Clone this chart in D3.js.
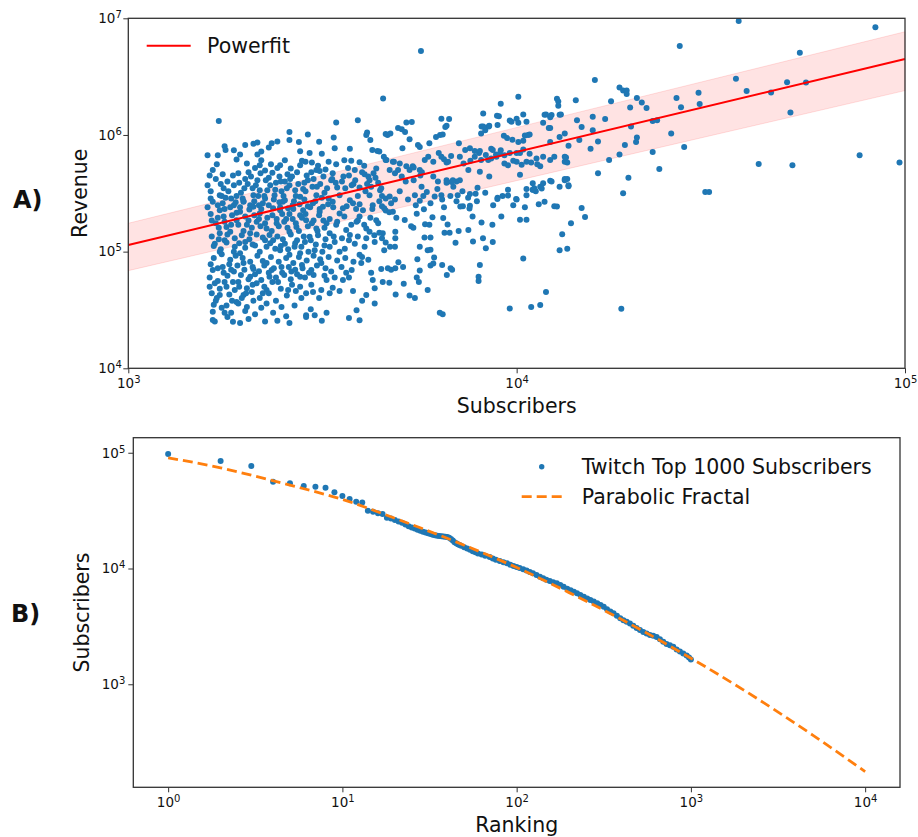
<!DOCTYPE html>
<html>
<head>
<meta charset="utf-8">
<script src="https://cdn.jsdelivr.net/npm/d3@7"></script>
<style>
  body { margin: 0; background: #fff; }
  text { font-family: "DejaVu Sans", sans-serif; fill: #111; }
</style>
</head>
<body>
<div id="chart"></div>
<script>
// ---- panel A data: [subscribers (thousands), revenue (thousands)] ----
var scatterDense = [
  [1.71,1320],[4.1,1000],[4.2,905],[4.65,1000],[3.43,1280],[3.9,1340],
  [2.6,1060],[2.6,905],[3.38,950],[3.4,770],[2.75,870],[2.77,725],[3.1,875],
  [2.1,840],[2.34,850],[2.2,720],[2.15,680],[1.6,670],[1.7,670],[1.78,745],[1.9,615],[1.94,680],
  [3.72,760],[3.6,608],[3.75,600],[3.94,585],[4.05,545],[4.25,745],[4.38,730],[4.55,650],
  [2.8,600],[2.93,700],[3.15,690],[2.97,580],[3.08,545],[2.62,515],[2.61,420],
  [2.18,550],[2.25,495],[2.35,475],[2.45,440],[2.53,400],[2.4,390],
  [1.65,500],[1.75,460],[1.73,380],[1.6,370],
  [1.87,370],[2.0,420],[1.95,320],[2.09,350],[2.15,410],[2.18,336],[2.28,336],
  [2.69,336],[2.82,345],[2.9,410],[3.11,490],[3.22,505],[3.33,410],[3.45,355],[3.58,440],[3.7,450],
  [3.84,410],[3.94,355],[4.06,460],[4.18,410],[4.33,430],[4.45,336],[4.6,285],
  [1.72,305],[1.84,285],[1.98,270],[2.1,305],[2.25,285],[2.38,305],[2.53,276],[2.77,295],[3.05,305],
  [3.28,285],[3.5,305],[3.72,276],[3.94,255],[4.18,305],[4.43,270],
  [1.6,240],[1.77,232],[1.94,240],[2.06,250],[2.2,232],[2.46,240],[2.66,232],[2.9,245],[3.11,232],
  [3.37,240],[3.65,245],[3.86,232],[4.25,232],[4.5,245],
  [1.87,740],[2.02,570],[2.2,608],[2.46,550],[2.53,608],[2.77,550],[2.86,590],[3.05,500],[3.28,590],
  [3.43,560],[3.83,500],[4.15,440],[4.35,515],
  [1.68,420],[1.8,400],[1.92,470],[2.04,480],[2.12,520],[2.3,430],[2.42,520],[2.57,460],[2.72,480],
  [2.88,450],[3.0,420],[3.18,440],[3.36,470],[3.55,400],[3.68,520],[3.8,380],[4.0,480],[4.12,380],
  [4.28,470],[1.63,330],[1.76,350],[1.9,300],[2.03,380],[2.16,300],[2.32,370],[2.48,330],[2.6,370],
  [2.7,300],[2.84,390],[2.98,360],[3.12,380],[3.25,350],[3.42,390],[3.62,350],[3.76,370],[3.9,300],
  [4.08,330],[4.22,360],[4.4,390],
  [1.77,800],[2.0,820],[2.15,860],[2.42,880],[2.3,780],[2.9,1010],
  [4.12,1050],[4.6,1020],[4.95,1150],[5.2,1280],[6.2,960],[6.4,1380],[6.6,1200]
];

var scatterLow = [
  [1.65,267],[1.75,260],[1.87,250],[1.98,267],[2.1,243],[2.22,260],[2.36,235],[2.5,267],[2.65,250],
  [2.82,226],[2.99,260],[3.17,243],[3.36,267],[3.57,235],[3.79,260],[4.02,226],[4.26,250],[4.56,235],
  [1.72,226],[1.94,220],[2.18,212],[2.46,226],[2.77,205],[3.11,220],[3.5,212],[3.94,200],
  [1.68,175],[1.79,163],[1.9,186],[2.02,170],[2.14,180],[2.27,158],[2.41,175],[2.55,190],[2.71,163],
  [2.87,186],[3.05,158],[3.24,175],[3.43,170],[3.64,153],[3.87,180],[4.1,158],[4.35,186],
  [1.72,144],[1.83,148],[2.06,144],[2.31,139],[2.6,148],[2.93,134],[3.3,144],[3.72,139],[4.18,148],[4.52,144],
  [1.67,117],[1.77,125],[1.88,110],[2.0,121],[2.12,113],[2.25,125],[2.39,106],[2.53,117],[2.68,110],
  [2.85,121],[3.02,103],[3.2,113],[3.4,121],[3.61,106],[3.83,117],[4.06,110],[4.31,121],[4.56,103],
  [1.72,100],[1.94,97],[2.46,103],[2.6,94],[2.77,97],[3.5,100],[3.94,94],
  [1.65,69.5],[1.75,74],[1.87,67.5],[1.98,80],[2.1,71],[2.22,83],[2.34,69.5],[2.48,74],[2.63,67.5],
  [2.8,77],[2.96,69.5],[3.14,80],[3.33,67.5],[3.54,74],[3.76,69.5],[3.98,80],[4.22,66],[4.48,71],
  [1.83,85],[2.06,61],[2.31,61],[2.77,61],[3.24,57],[3.64,66],[4.26,57],
  [1.67,53.5],[1.79,50],[1.92,55],[2.02,48.5],[2.14,53.5],[2.27,47],[2.43,55],[2.58,47],[2.77,50],
  [2.96,52],[3.14,47],[3.36,49],[3.57,57],[3.79,46],[4.1,42.5],[4.31,48.5],[4.52,55],
  [1.72,42.5],[1.98,42.5],[2.22,44],[2.87,44],
  [1.68,38],[1.79,34.5],[1.9,37],[2.02,33.5],[2.1,38],[2.27,36],[2.48,33.5],[2.68,34.5],[2.87,28.5],
  [3.02,28.5],[3.24,30],[3.87,31.5],[3.94,25.8],[4.31,36],
  [1.65,30.5],[1.67,25.2],[1.77,30],[1.94,24.5],[2.04,26.5],[2.25,25.2],[2.6,24.5],[2.87,27.5],
  [1.63,210],[1.7,195],[1.77,180],[1.85,205],[1.92,170],[2.0,200],[2.08,160],[2.17,190],[2.25,175],
  [2.35,205],[2.44,165],[2.52,180],[2.6,210],[2.7,175],[2.8,195],[2.9,165],[3.0,185],[3.1,205],
  [3.2,160],[3.3,190],[3.45,180],[3.6,200],[3.75,170],[3.9,185],[4.05,170],[4.2,195],[4.4,175],
  [1.64,135],[1.71,128],[1.8,140],[1.88,130],[1.96,138],[2.05,128],[2.14,140],[2.22,132],[2.32,118],
  [2.42,135],[2.5,128],[2.62,140],[2.72,125],[2.83,135],[2.95,125],[3.08,138],[3.22,128],[3.38,135],
  [3.55,130],[3.7,125],[3.9,135],[4.1,130],[4.3,138],
  [1.66,88],[1.74,95],[1.82,78],[1.89,92],[1.97,88],[2.06,82],[2.15,92],[2.24,76],[2.33,90],[2.44,82],
  [2.55,88],[2.66,80],[2.75,90],[2.88,84],[3.0,92],[3.12,86],[3.28,90],[3.45,84],[3.62,88],[3.8,82],
  [4.0,90],[4.15,85],
  [1.62,60],[1.7,56],[1.8,62],[1.86,55],[1.95,63],[2.04,58],[2.12,64],[2.2,57],[2.3,66],[2.4,60],
  [2.52,63],[2.62,58],[2.72,64],[2.85,60],[3.0,63],[3.2,62],[3.4,60],[3.7,60],
  [1.64,44],[1.72,48],[1.82,43],[1.88,47],[1.96,40],[2.08,45],[2.18,40],[2.3,44],[2.4,38],[2.56,42],
  [2.7,46],[3.1,40],[3.3,44],[3.5,46],
  [1.66,35],[1.74,33],[1.84,30],[1.92,36],[2.0,31],[2.12,29],[2.2,33],[2.36,30],[2.55,28],[3.7,27],
  [4.0,38],[1.65,26],[1.8,27.5],[1.86,25],[2.42,25.5],[2.95,32],[3.15,25.5]
];

// extra points filling the dense low-subscriber cluster
var scatterCore = [
  [1.62,450],[1.69,560],[1.74,300],[1.81,330],[1.86,450],[1.93,390],[1.99,350],[2.07,440],[2.13,370],
  [2.19,470],[2.26,410],[2.33,560],[2.39,340],[2.47,400],[2.56,350],[2.64,440],[2.74,380],[2.86,330],
  [2.96,480],[3.06,360],[3.2,320],[3.35,420],
  [1.63,285],[1.7,250],[1.78,290],[1.83,240],[1.89,265],[1.97,285],[2.05,230],[2.11,270],[2.17,250],
  [2.24,300],[2.3,250],[2.37,280],[2.45,265],[2.51,300],[2.58,235],[2.67,270],[2.76,255],[2.84,280],
  [2.94,240],[3.03,270],[3.15,290],[3.27,255],
  [1.64,185],[1.71,160],[1.76,200],[1.84,170],[1.9,215],[1.98,150],[2.04,185],[2.11,205],[2.19,165],
  [2.28,195],[2.34,150],[2.41,190],[2.49,210],[2.57,160],[2.65,190],[2.75,150],[2.86,210],[2.97,175],
  [3.07,150],[3.18,185],
  [1.66,112],[1.73,105],[1.79,120],[1.87,100],[1.93,118],[2.0,108],[2.09,115],[2.18,100],[2.27,110],
  [2.36,125],[2.47,112],[2.58,105],[2.69,118],[2.79,110],[2.91,100],[3.04,115],[3.16,100],[3.3,110],
  [1.63,78],[1.7,72],[1.76,66],[1.84,70],[1.91,76],[1.99,70],[2.09,74],[2.17,68],[2.27,80],[2.37,72],
  [2.49,66],[2.59,74],[2.69,70],[2.81,72],[2.92,66],[3.06,76],[3.22,72],
  [1.62,50],[1.69,40],[1.77,55],[1.85,38],[1.93,50],[2.01,44],[2.09,52],[2.24,50],[2.35,55],[2.47,48],
  [2.64,52],[2.79,40],[2.99,45]
];

var scatterMid = [
  [4.43,145],[4.5,130],[4.6,120],[4.72,110],[4.86,110],[4.66,72],[4.75,70],[4.87,72],[5.1,74],[4.96,81],
  [4.7,54],[5.12,53],[4.88,43],[5.3,42],[5.47,40],[4.87,148],[4.87,130],[4.9,195],[5.15,187],[5.35,165],
  [5.42,160],[4.6,225],[4.7,218],[4.8,220],[5.53,211],[5.77,231],[5.81,172],[5.96,170],[6.07,197],
  [6.0,132],[5.79,132],[5.63,110],[5.9,103],[6.0,104],[6.13,89],[6.0,76],[6.1,79],[5.63,69],[5.55,86],
  [5.53,60],[5.6,55],[5.9,47],
  [4.53,2050],[11.9,1500],[12.3,1480],[13.0,1500],[9.0,1450],[9.7,1300],[10.1,1270],[10.6,1300],
  [5.37,1290],[5.06,1120],[5.16,1060],[4.73,1030],[6.35,1000],[6.45,1010],[5.96,850],[5.57,820],
  [5.63,790],[5.3,920],[5.08,770],[4.83,590],[4.6,610],[4.43,720],[5.0,570],[5.3,500],[5.4,540],
  [5.7,480],[5.65,450],
  [6.3,700],[6.5,620],[6.6,580],[7.1,850],[7.3,570],[7.8,650],[8.0,700],[7.6,600],[8.1,610],[8.45,610],
  [8.6,760],[8.85,680],[9.1,740],[9.3,670],[9.6,700],[10.0,590],[10.4,750],[10.8,690],[11.3,560],
  [11.5,540],[12.5,650],[13.3,590],[13.5,580],
  [4.71,500],[4.86,470],[5.06,440],[5.18,400],[5.43,410],[5.69,360],[5.87,325],[6.1,440],[6.27,400],
  [6.6,410],[6.87,360],[7.14,410],[7.51,500],[8.04,485],[8.5,440],[8.93,290],[9.5,340],[10.0,280],
  [10.6,305],[11.0,340],[11.5,360],[12.5,245],[13.5,420],[12.9,360],[7.27,245],[7.58,247],[6.15,297],
  [6.4,305],[5.63,273],[5.47,305],[4.86,280],[4.71,297],[4.48,350],
  [4.62,610],[4.8,590],[4.95,500],[5.2,540],[5.43,525],[5.63,500],[5.8,610],[5.92,650],[6.1,590],
  [6.4,650],[6.66,590],[6.78,660],[7.14,650],[7.37,745],[7.58,770],[7.8,730],[8.04,730],[8.33,675],
  [8.6,630],[8.68,745],[8.87,650],[9.05,690],[9.3,570],[9.5,550],[9.8,600],[10.2,700],[10.6,590],
  [10.9,580],[11.25,630],[11.7,650],[12.2,610],
  [4.5,300],[4.75,260],[5.0,330],[5.25,280],[5.5,250],[5.75,300],[6.0,260],[6.25,345],[6.5,240],
  [6.75,300],[7.0,270],[7.25,330],[7.5,290],[7.9,270],[8.3,320],[8.7,250],[9.2,300],[9.8,250],[10.5,240],
  [8.12,1180],[8.48,1180],[8.93,1220],[9.27,985],[9.45,940],[9.75,910],[10.4,890],[10.7,1000],
  [10.8,1010],[12.2,1150],[13.3,1030]
];

var scatterSparse = [
  [37.3,9500],[83.9,8400],[26.3,5800],[53.6,5070],[5.67,5250],[15.9,2960],[18.4,2550],[18.8,2400],
  [19.2,2400],[19.2,2240],[36.7,3040],[39.1,2380],[45.2,2310],[49.7,2830],[55.6,2810],[50.7,1560],
  [76.4,670],[96.8,580],[42,564],[51.3,550],[30.6,325],[31.3,325],[25.8,2070],[26.5,1730],[29.4,2300],
  [29.6,1840],[25,1030],[27,790],[23.3,510],[22.4,715],[23,1340],[22.4,1320],[20.4,2070],[21,1900],
  [21.6,1700],[19.6,1720],[19.7,1180],[20.4,950],[20.3,870],[19,820],[18.4,680],[19.4,430],[18.8,316],
  [17.3,610],[16.2,470],[16.9,1370],[17.5,1950],[15.7,1430],[15.7,1100],[15.5,760],[16.2,880],
  [14.7,1170],[14.2,1980],[14.3,1340],[14.5,906],[13.6,810],[13.3,650],[13.4,640],[13.3,420],[13.6,370],
  [12.9,960],[12.7,2040],[12.8,1940],[12.8,1780],[12.9,1490],[12.2,1420],[12.1,1150],[12.2,870],
  [12.2,405],[11.8,1490],[11.7,1270],[11.0,385],[11.1,350],[10.6,344],[11.2,330],[10.3,555],[10.5,990],
  [10.4,1500],[10.1,870],[10.2,455],[10.0,700],[10.1,2130],[10.0,1380],[9.6,1330],[9.1,1850],
  [8.9,1460],[8.5,1200],[8.3,1100],[8.1,1030],[8.2,1180],[8.2,1530],[6.55,1170],[6.7,1370],
  [18.6,32.4],[9.6,32.5],[10.9,33.6],[11.5,34.9],[11.9,45],[10.4,87.5],[12.9,103],[13.5,106],[13.1,141],
  [13.8,175],[14.7,237],[15.0,198],[12.7,244],[11.8,268],[11.4,255],[11.0,340],[11.6,348],[11.7,385],
  [12.3,400],[13.3,410],[13.6,364],[10.2,188],[10.6,188],[9.97,282],[9.5,303],[8.92,282],[9.13,200],
  [8.66,170],[8.68,121],[8.33,107],[8.19,130],[8.12,178],[8.04,77],[7.98,61],[7.98,56],[7.70,200],
  [7.72,122],[7.56,234],[7.51,153],[7.58,312],[7.84,313],[7.93,353],[7.16,244],[7.09,150],[6.96,119],
  [7.05,305],[6.72,145],[6.52,145],[6.64,171],[6.47,194],[6.43,77],[6.76,72],[6.82,70],[6.61,63],
  [6.45,29],[6.34,30],[6.43,280],[6.6,390],[6.8,395],[7.0,400],[6.85,410]
];

// power fit and its band, at the two ends of the x range
var fitSubs = [1e3, 1e5];
var fitRev = [1.14e5, 4.48e6];
var fitLow = [6.87e4, 2.40e6];
var fitHigh = [1.75e5, 7.67e6];

// ---- panel B data ----
var rankList = [1,2,3,4,5,6,7,8,9,10,11,12,13,14,15,16,17,18,19,20,21,22,23,24,25,26,27,28,29,30,
  31,32,33,34,35,36,37,38,39,40,41,42,43,44,45,46,47,48,50,52,54,56,58,60,63,66,70,73,76,80,84,88,
  92,96,100,104,109,114,119,124,130,136,142,148,155,162,170,178,186,195,204,213,222,232,243,254,265,
  277,290,303,316,330,345,360,376,393,410,428,447,467,488,510,533,557,582,608,636,664,694,725,758,
  792,828,865,904,945,975,1000];
var rankSubsK = [97.4,84.8,76.8,56.2,54.4,51.6,50.9,49.9,45.5,42.3,39.8,37.8,37.1,31.6,31.0,30.0,29.6,
  27.5,27.0,26.2,25.5,24.8,24.0,23.2,22.6,22.2,21.6,21.2,20.8,20.5,20.2,19.9,19.6,19.4,19.2,19.1,19.0,
  18.9,18.8,18.7,18.4,18.0,17.5,16.9,16.5,16.2,16.0,15.7,15.3,14.9,14.5,14.1,13.8,13.5,13.2,12.9,12.6,
  12.2,11.9,11.6,11.3,11.1,10.8,10.5,10.3,10.1,9.85,9.6,9.35,9.1,8.8,8.5,8.25,8.0,7.8,7.6,7.45,7.2,
  6.95,6.7,6.5,6.3,6.1,5.9,5.7,5.5,5.35,5.2,5.0,4.85,4.68,4.45,4.25,4.1,3.9,3.72,3.58,3.47,3.35,3.2,
  3.07,2.94,2.83,2.74,2.66,2.62,2.56,2.45,2.33,2.23,2.17,2.11,2.0,1.92,1.84,1.77,1.70,1.64];

var fracRank = [1,2,3,5,10,20,50,100,200,500,1000,2000,5000,10000];
var fracSubs = [90500,74000,64000,52500,39500,27200,15900,10200,6190,3030,1680,895,364,176];

var blue = "#1f77b4", orange = "#ff7f0e";

var svg = d3.select("#chart").append("svg")
	.attr("width", 918)
	.attr("height", 837);

// minor tick values inside a log domain
function minorTicks(domain) {
	var out = [];
	var lo = Math.floor(Math.log10(domain[0])), hi = Math.ceil(Math.log10(domain[1]));
	for (var k = lo; k <= hi; k++) {
		for (var m = 2; m <= 9; m++) {
			var v = m * Math.pow(10, k);
			if (v >= domain[0] && v <= domain[1]) out.push(v);
		}
	}
	return out;
}

function superscript(sel) {
	sel.selectAll(".tick text").each(function (d) {
		var t = d3.select(this);
		var e = Math.round(Math.log10(d));
		t.text(null);
		t.append("tspan").text("10");
		t.append("tspan").attr("dy", "-0.5em").attr("font-size", "10px").text(e);
	});
}

function drawAxes(x, y, xMajor, yMajor, yPad) {
	var x0 = x.range()[0], x1 = x.range()[1];
	var y0 = y.range()[0], y1 = y.range()[1];

	var gx = svg.append("g").attr("transform", "translate(0," + y0 + ")");
	gx.call(d3.axisBottom(x).tickValues(minorTicks(x.domain())).tickSize(3).tickFormat(""));
	gx.call(d3.axisBottom(x).tickValues(xMajor).tickSize(5).tickPadding(5));
	gx.selectAll(".domain").remove();
	gx.attr("font-size", 13.5).attr("font-family", "DejaVu Sans");
	superscript(gx);

	var gy = svg.append("g").attr("transform", "translate(" + x0 + ",0)");
	gy.call(d3.axisLeft(y).tickValues(minorTicks(y.domain())).tickSize(3).tickFormat(""));
	gy.call(d3.axisLeft(y).tickValues(yMajor).tickSize(5).tickPadding(yPad));
	gy.selectAll(".domain").remove();
	gy.attr("font-size", 13.5).attr("font-family", "DejaVu Sans");
	superscript(gy);

	svg.selectAll(".tick line").attr("stroke", "#333");

	svg.append("rect")
		.attr("x", x0).attr("y", y1)
		.attr("width", x1 - x0).attr("height", y0 - y1)
		.attr("fill", "none")
		.attr("stroke", "#333")
		.attr("stroke-width", 1.3);
}

// ================= panel A =================
var xA = d3.scaleLog().domain([1e3, 1e5]).range([128.3, 905]);
var yA = d3.scaleLog().domain([1e4, 1e7]).range([368.3, 18.3]);

svg.append("clipPath").attr("id", "clipA").append("rect")
	.attr("x", 128.3).attr("y", 18.3).attr("width", 905 - 128.3).attr("height", 350);

var band = fitSubs.map(function (s, i) { return {s: s, lo: fitLow[i], hi: fitHigh[i]}; });
svg.append("path")
	.datum(band)
	.attr("d", d3.area()
		.x(function (d) { return xA(d.s); })
		.y0(function (d) { return yA(d.lo); })
		.y1(function (d) { return yA(d.hi); }))
	.attr("fill", "rgba(255,0,0,0.11)")
	.attr("stroke", "rgba(255,0,0,0.12)")
	.attr("stroke-width", 1);

var pointsA = scatterDense.concat(scatterLow, scatterCore, scatterMid, scatterSparse).map(function (d) {
	return {s: d[0] * 1000, r: d[1] * 1000};
});

svg.append("g")
	.attr("clip-path", "url(#clipA)")
	.selectAll("circle")
	.data(pointsA)
	.enter()
	.append("circle")
	.attr("cx", function (d) { return xA(d.s); })
	.attr("cy", function (d) { return yA(d.r); })
	.attr("r", 3)
	.attr("fill", blue);

var fit = fitSubs.map(function (s, i) { return {s: s, r: fitRev[i]}; });
svg.append("path")
	.datum(fit)
	.attr("d", d3.line()
		.x(function (d) { return xA(d.s); })
		.y(function (d) { return yA(d.r); }))
	.attr("fill", "none")
	.attr("stroke", "#ff0000")
	.attr("stroke-width", 2);

drawAxes(xA, yA, [1e3, 1e4, 1e5], [1e4, 1e5, 1e6, 1e7], 1.5);

// legend A
svg.append("line")
	.attr("x1", 146.7).attr("x2", 190.7).attr("y1", 45.7).attr("y2", 45.7)
	.attr("stroke", "#ff0000").attr("stroke-width", 2);
svg.append("text").attr("x", 207).attr("y", 53).attr("font-size", 20.5).text("Powerfit");

// labels A
svg.append("text").attr("x", 516.7).attr("y", 413).attr("text-anchor", "middle")
	.attr("font-size", 20.5).text("Subscribers");
svg.append("text").attr("transform", "translate(87,193.3) rotate(-90)").attr("text-anchor", "middle")
	.attr("font-size", 20.5).text("Revenue");
svg.append("text").attr("x", 13).attr("y", 208).attr("font-size", 24).attr("font-weight", "bold")
	.text("A)");

// ================= panel B =================
var xB = d3.scaleLog().domain([Math.pow(10, -0.2), Math.pow(10, 4.2)]).range([133.3, 900]);
var yB = d3.scaleLog().domain([Math.pow(10, 2.11), Math.pow(10, 5.13)]).range([787.3, 437.7]);

var pointsB = rankList.map(function (r, i) { return {rank: r, s: rankSubsK[i] * 1000}; });

svg.append("g")
	.selectAll("circle")
	.data(pointsB)
	.enter()
	.append("circle")
	.attr("cx", function (d) { return xB(d.rank); })
	.attr("cy", function (d) { return yB(d.s); })
	.attr("r", 3)
	.attr("fill", blue);

var frac = fracRank.map(function (r, i) { return {rank: r, s: fracSubs[i]}; });
svg.append("path")
	.datum(frac)
	.attr("d", d3.line()
		.curve(d3.curveMonotoneX)
		.x(function (d) { return xB(d.rank); })
		.y(function (d) { return yB(d.s); }))
	.attr("fill", "none")
	.attr("stroke", orange)
	.attr("stroke-width", 2.8)
	.attr("stroke-dasharray", "10,5");

drawAxes(xB, yB, [1, 10, 100, 1000, 10000], [1e3, 1e4, 1e5], 3);

// legend B
svg.append("circle").attr("cx", 541.7).attr("cy", 466.7).attr("r", 2.7).attr("fill", blue);
svg.append("text").attr("x", 581.7).attr("y", 474).attr("font-size", 20.5).text("Twitch Top 1000 Subscribers");
svg.append("line")
	.attr("x1", 521.7).attr("x2", 561.7).attr("y1", 496.7).attr("y2", 496.7)
	.attr("stroke", orange).attr("stroke-width", 2.8).attr("stroke-dasharray", "10,5");
svg.append("text").attr("x", 581.7).attr("y", 504).attr("font-size", 20.5).text("Parabolic Fractal");

// labels B
svg.append("text").attr("x", 516.7).attr("y", 832).attr("text-anchor", "middle")
	.attr("font-size", 20.5).text("Ranking");
svg.append("text").attr("transform", "translate(89,612.5) rotate(-90)").attr("text-anchor", "middle")
	.attr("font-size", 20.5).text("Subscribers");
svg.append("text").attr("x", 11).attr("y", 622).attr("font-size", 24).attr("font-weight", "bold")
	.text("B)");
</script>
</body>
</html>
